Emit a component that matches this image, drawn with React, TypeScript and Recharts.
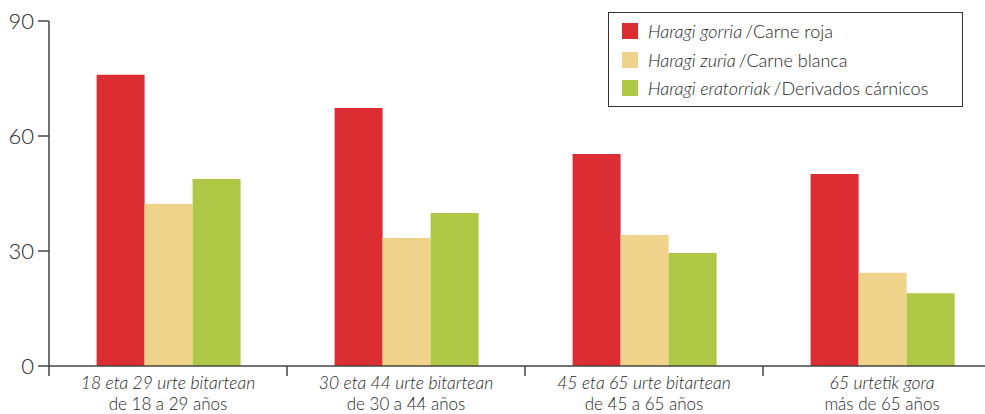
import { BarChart, Bar, XAxis, YAxis, Legend } from "recharts"

const groupsEu = ["18 eta 29 urte bitartean", "30 eta 44 urte bitartean", "45 eta 65 urte bitartean", "65 urtetik gora"]
const groupsEs = ["de 18 a 29 años", "de 30 a 44 años", "de 45 a 65 años", "más de 65 años"]
const red = [76, 67.3, 55.3, 50.1]
const white = [42.3, 33.4, 34.2, 24.3]
const derived = [48.8, 39.9, 29.5, 19]
const yTicks = [0, 30, 60, 90]

const seriesEu = ["Haragi gorria", "Haragi zuria", "Haragi eratorriak"]
const seriesEs = ["Carne roja", "Carne blanca", "Derivados cárnicos"]
const colors = ["#DC2D32", "#F0D38A", "#AEC846"]

const data = groupsEu.map((g, i) => ({
  name: g,
  es: groupsEs[i],
  red: red[i],
  white: white[i],
  derived: derived[i],
}))

const FONT = "Lato, 'Open Sans', sans-serif"
const TEXT = "#262626"
const AXIS = "#444"

const CHART_W = 1010
const MARGIN_R = 9
const Y_W = 49
const HALF_BAND = (CHART_W - MARGIN_R - Y_W) / groupsEu.length / 2

function CatTick(props: any) {
  const { x, y, index } = props
  return (
    <g>
      <line x1={x - HALF_BAND} x2={x - HALF_BAND} y1={y} y2={y + 10} stroke={AXIS} strokeWidth={1.5} />
      <text x={x} y={y + 23} textAnchor="middle" fontFamily={FONT} fontSize={17.5} fontStyle="italic" fontWeight={300} fill={TEXT}>
        {groupsEu[index]}
      </text>
      <text x={x} y={y + 43.5} textAnchor="middle" fontFamily={FONT} fontSize={17} fontWeight={300} fill={TEXT}>
        {groupsEs[index]}
      </text>
    </g>
  )
}

function LegendBox() {
  return (
    <div
      style={{
        width: 353,
        height: 93,
        border: "1px solid #333",
        background: "#fff",
        fontFamily: FONT,
        fontSize: 18,
        fontWeight: 300,
        color: TEXT,
        position: "relative",
      }}
    >
      {seriesEu.map((s, i) => (
        <div key={s} style={{ position: "absolute", left: 13, top: 6 + i * 28.5, height: 24, display: "flex", alignItems: "center", whiteSpace: "nowrap" }}>
          <span style={{ width: 16, height: 16, background: colors[i], display: "inline-block", marginRight: 10 }} />
          <span style={{ fontStyle: "italic" }}>{s}</span>
          <span style={{ marginLeft: 3 }}>/{seriesEs[i]}</span>
        </div>
      ))}
    </div>
  )
}

export default function App() {
  return (
    <div style={{ position: "absolute", left: 0, top: 0, width: 985, height: 414, overflow: "hidden", background: "#fff" }}>
      <BarChart
        width={CHART_W}
        height={414}
        data={data}
        margin={{ top: 21, right: MARGIN_R, left: 0, bottom: 0 }}
        barCategoryGap="20%"
        barGap={0}
      >
        <XAxis
          dataKey="name"
          height={48}
          tickLine={false}
          tickSize={0}
          tickMargin={0}
          axisLine={{ stroke: AXIS, strokeWidth: 1.5 }}
          tick={<CatTick />}
          interval={0}
        />
        <YAxis
          width={Y_W}
          domain={[0, 90]}
          ticks={yTicks}
          tickSize={11}
          tickMargin={4}
          axisLine={{ stroke: AXIS, strokeWidth: 1.5 }}
          tickLine={{ stroke: AXIS, strokeWidth: 1.5 }}
          tick={{ fontFamily: FONT, fontSize: 22, fontWeight: 300, fill: TEXT }}
        />
        <Legend
          layout="horizontal"
          verticalAlign="middle"
          align="center"
          content={<LegendBox />}
          wrapperStyle={{ left: 608, top: 12, width: 355 }}
        />
        <Bar dataKey="red" fill={colors[0]} isAnimationActive={false} />
        <Bar dataKey="white" fill={colors[1]} isAnimationActive={false} />
        <Bar dataKey="derived" fill={colors[2]} isAnimationActive={false} />
      </BarChart>
    </div>
  )
}
